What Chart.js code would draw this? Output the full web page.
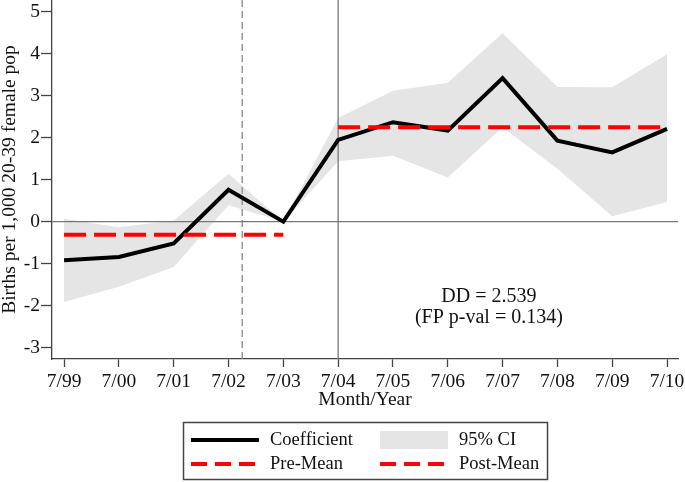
<!DOCTYPE html>
<html lang="en">
  <head>
    <meta charset="utf-8">
    <title>Births event study</title>
    <script src="https://cdn.jsdelivr.net/npm/chart.js"></script>
    <style>
      body { margin: 0; background: #fff; }
      #wrap { width: 685px; height: 482px; }
    </style>
  </head>
  <body>
    <div id="wrap"><canvas id="myChart" width="685" height="482"></canvas></div>

  <script>
      // categories (x positions are their index)
      const xLabels = ['7/99', '7/00', '7/01', '7/02', '7/03', '7/04', '7/05', '7/06', '7/07', '7/08', '7/09', '7/10'];
      const yTicks = [-3, -2, -1, 0, 1, 2, 3, 4, 5];

      // series
      const coefficient = [-0.92, -0.84, -0.52, 0.76, 0.0, 1.95, 2.37, 2.17, 3.42, 1.93, 1.65, 2.21];
      const ciUpper = [0.07, -0.13, 0.03, 1.14, 0.0, 2.47, 3.12, 3.31, 4.49, 3.21, 3.20, 3.99];
      const ciLower = [-1.91, -1.55, -1.08, 0.39, 0.0, 1.44, 1.57, 1.05, 2.25, 1.26, 0.13, 0.47];
      const preMean = -0.31;
      const postMean = 2.25;
      const preRange = [0, 4];
      const postRange = [5, 11];
      const policyLine = 5;       // solid vertical at 7/04
      const announceLine = 3.25;  // dashed vertical after 7/02

      const xMin = -0.22, xMax = 11.2;
      const yMin = -3.27, yMax = 5.28;

      const serif = "'Liberation Serif', 'DejaVu Serif', serif";
      const toPts = arr => arr.map((v, i) => ({ x: i, y: v }));

      const ddText = {
        id: 'ddText',
        afterDatasetsDraw(chart) {
          const { ctx, scales: { x, y } } = chart;
          ctx.save();
          ctx.fillStyle = '#111';
          ctx.font = '20px ' + serif;
          ctx.textAlign = 'center';
          ctx.textBaseline = 'middle';
          const px = x.getPixelForValue(7.75);
          const py = y.getPixelForValue(-1.79);
          ctx.fillText('DD = 2.539', px, py);
          ctx.fillText('(FP p-val = 0.134)', px, py + 21);
          ctx.restore();
        }
      };

      const legendOrder = ['Coefficient', '95% CI', 'Pre-Mean', 'Post-Mean'];
      const boxLegend = {
        id: 'boxLegend',
        afterDraw(chart) {
          const ctx = chart.ctx;
          ctx.save();
          ctx.strokeStyle = '#444';
          ctx.lineWidth = 1.5;
          ctx.strokeRect(183.5, 422.5, 364, 57);
          const colX = [191, 380];
          const rowY = [440, 464];
          ctx.font = '18.5px ' + serif;
          ctx.textBaseline = 'middle';
          legendOrder.forEach((name, k) => {
            const ds = chart.data.datasets.find(d => d.label === name);
            const x0 = colX[k % 2], yy = rowY[Math.floor(k / 2)];
            if (ds.fill) {
              ctx.fillStyle = ds.backgroundColor;
              ctx.fillRect(x0, yy - 9, 68, 18);
            } else {
              ctx.strokeStyle = ds.borderColor;
              ctx.lineWidth = ds.borderWidth;
              ctx.setLineDash(ds.borderDash ? [16, 8] : []);
              ctx.beginPath();
              ctx.moveTo(x0, yy);
              ctx.lineTo(x0 + 68, yy);
              ctx.stroke();
              ctx.setLineDash([]);
            }
            ctx.fillStyle = '#111';
            ctx.fillText(name, x0 + 79, yy);
          });
          ctx.restore();
        }
      };

      const ctx = document.getElementById('myChart').getContext('2d');
      const myChart = new Chart(ctx, {
        type: 'line',
        data: {
          datasets: [
            {
              label: 'Post-Mean',
              data: postRange.map(v => ({ x: v, y: postMean })),
              borderColor: '#ff0000', borderWidth: 4, borderDash: [22, 8],
              pointRadius: 0, fill: false
            },
            {
              label: 'Pre-Mean',
              data: preRange.map(v => ({ x: v, y: preMean })),
              borderColor: '#ff0000', borderWidth: 4, borderDash: [22, 8],
              pointRadius: 0, fill: false
            },
            {
              label: 'Coefficient',
              data: toPts(coefficient),
              borderColor: '#000', borderWidth: 4,
              pointRadius: 0, fill: false
            },
            {
              label: 'zero',
              data: [{ x: xMin, y: 0 }, { x: xMax, y: 0 }],
              borderColor: '#777', borderWidth: 1.3, pointRadius: 0, fill: false
            },
            {
              label: 'policy',
              data: [{ x: policyLine, y: yMin }, { x: policyLine, y: yMax }],
              borderColor: '#777', borderWidth: 1.3, pointRadius: 0, fill: false
            },
            {
              label: 'announce',
              data: [{ x: announceLine, y: yMin }, { x: announceLine, y: yMax }],
              borderColor: '#888', borderWidth: 1.3, borderDash: [7, 4], pointRadius: 0, fill: false
            },
            {
              label: '95% CI',
              data: toPts(ciUpper),
              borderWidth: 0, borderColor: 'rgba(0,0,0,0)',
              backgroundColor: '#e5e5e5', pointRadius: 0, fill: '+1'
            },
            {
              label: 'ciLower',
              data: toPts(ciLower),
              borderWidth: 0, borderColor: 'rgba(0,0,0,0)',
              pointRadius: 0, fill: false
            }
          ]
        },
        options: {
          responsive: false,
          animation: false,
          layout: { padding: { top: 0, right: 7, bottom: 70, left: 0 } },
          plugins: { legend: { display: false }, tooltip: { enabled: false } },
          scales: {
            x: {
              type: 'linear', min: xMin, max: xMax,
              afterBuildTicks: s => { s.ticks = xLabels.map((l, i) => ({ value: i })); },
              afterFit: s => { s.height = 53; s.paddingLeft = 0; s.paddingRight = 0; },
              ticks: {
                callback: v => xLabels[v],
                font: { family: serif, size: 19.5 }, color: '#111',
                padding: 3, maxRotation: 0, autoSkip: false
              },
              grid: { drawOnChartArea: false, drawTicks: true, tickLength: 8, color: '#444', tickWidth: 1.3 },
              border: { color: '#444', width: 1.3 },
              title: {
                display: true, text: 'Month/Year',
                font: { family: serif, size: 19.5 }, color: '#111',
                padding: { top: 0, bottom: 0 }
              }
            },
            y: {
              min: yMin, max: yMax,
              afterBuildTicks: s => { s.ticks = yTicks.map(v => ({ value: v })); },
              afterFit: s => { s.width = 52; s.paddingTop = 0; s.paddingBottom = 0; },
              ticks: {
                font: { family: serif, size: 19.5 }, color: '#111', padding: 1
              },
              grid: { drawOnChartArea: false, drawTicks: true, tickLength: 11, color: '#444', tickWidth: 1.3 },
              border: { color: '#444', width: 1.3 },
              title: {
                display: true, text: 'Births per 1,000 20-39 female pop',
                font: { family: serif, size: 19.5 }, color: '#111',
                padding: { top: -2, bottom: 0 }
              }
            }
          }
        },
        plugins: [ddText, boxLegend]
      });
  </script>
  </body>
</html>
